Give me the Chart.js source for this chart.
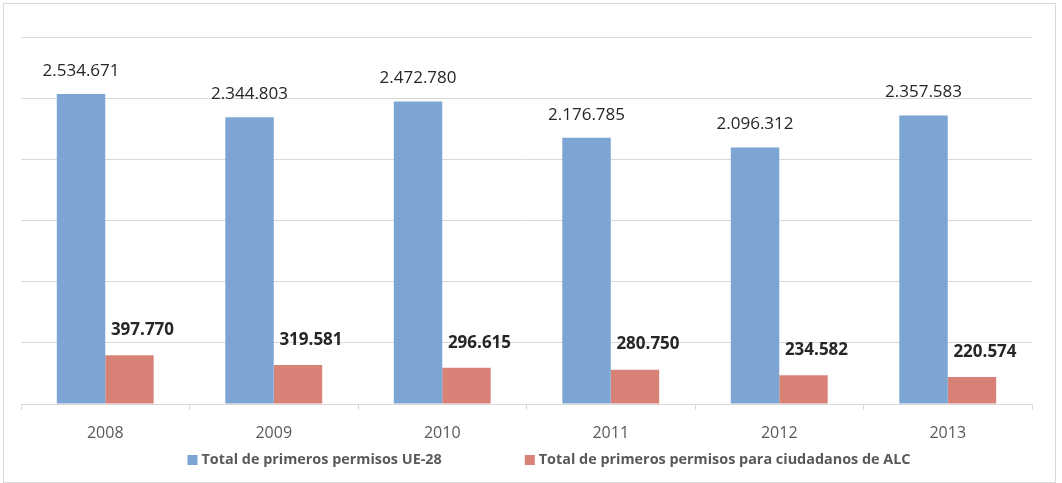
<!DOCTYPE html>
<html>
<head>
<meta charset="utf-8">
<script src="https://cdn.jsdelivr.net/npm/chart.js@4/dist/chart.umd.min.js"></script>
<style>
  html, body { margin: 0; padding: 0; background: #fff; }
  #wrap { position: relative; width: 1062px; height: 483px; }
</style>
</head>
<body>
<div id="wrap"><canvas id="bar-chart"></canvas></div>
<script>
var years = ["2008", "2009", "2010", "2011", "2012", "2013"];
var totalUE28 = [2534671, 2344803, 2472780, 2176785, 2096312, 2357583];
var totalALC = [397770, 319581, 296615, 280750, 234582, 220574];
var seriesNames = ["Total de primeros permisos UE-28", "Total de primeros permisos para ciudadanos de ALC"];
var seriesColors = ["#7CA5D4", "#D88277"];
var yMax = 3000000;
var yStep = 500000;

var FONT = "'Open Sans', 'DejaVu Sans', sans-serif";

function fmt(v) {
  return String(v).replace(/\B(?=(\d{3})+(?!\d))/g, ".");
}

// value labels above bars
var valueLabels = {
  id: 'valueLabels',
  afterDatasetsDraw: function(chart) {
    var ctx = chart.ctx;
    ctx.save();
    ctx.textAlign = 'center';
    ctx.textBaseline = 'middle';
    chart.data.datasets.forEach(function(ds, i) {
      var meta = chart.getDatasetMeta(i);
      meta.data.forEach(function(bar, j) {
        if (i === 0) {
          ctx.font = "17px " + FONT;
          ctx.fillStyle = "#262626";
          ctx.fillText(fmt(ds.data[j]), bar.x, bar.y - 23);
        } else {
          ctx.font = "bold 17px " + FONT;
          ctx.fillStyle = "#262626";
          ctx.fillText(fmt(ds.data[j]), bar.x + 13, bar.y - 25);
        }
      });
    });
    ctx.restore();
  }
};

// outer frame + bottom legend
var frameLegend = {
  id: 'frameLegend',
  afterDraw: function(chart) {
    var ctx = chart.ctx;
    ctx.save();
    ctx.strokeStyle = "#D9D9D9";
    ctx.lineWidth = 1;
    ctx.strokeRect(3.5, 3.5, 1052, 479);

    ctx.font = "bold 14.4px " + FONT;
    ctx.textBaseline = 'middle';
    ctx.textAlign = 'left';
    var box = 10, gapText = 4, gapItem = 83;
    var widths = seriesNames.map(function(t) { return ctx.measureText(t).width; });
    var total = box + gapText + widths[0] + gapItem + box + gapText + widths[1];
    var x = 549 - total / 2;
    var y = 460;
    seriesNames.forEach(function(t, i) {
      ctx.fillStyle = seriesColors[i];
      ctx.fillRect(x, y - box / 2, box, box);
      ctx.fillStyle = "#595959";
      ctx.fillText(t, x + box + gapText, y);
      x += box + gapText + widths[i] + gapItem;
    });
    ctx.restore();
  }
};

var ctx = document.getElementById("bar-chart");
var barChart = new Chart(ctx, {
  type: 'bar',
  data: {
    labels: years,
    datasets: [
      {
        label: seriesNames[0],
        data: totalUE28,
        backgroundColor: seriesColors[0],
        barPercentage: 1,
        categoryPercentage: 0.575
      },
      {
        label: seriesNames[1],
        data: totalALC,
        backgroundColor: seriesColors[1],
        barPercentage: 1,
        categoryPercentage: 0.575
      }
    ]
  },
  options: {
    responsive: true,
    maintainAspectRatio: false,
    animation: false,
    layout: { padding: { left: 21, right: 30, top: 37, bottom: 0 } },
    plugins: {
      legend: { display: false },
      tooltip: { enabled: false }
    },
    scales: {
      x: {
        grid: { offset: true, drawOnChartArea: false, drawTicks: true, tickLength: 6, color: "#D9D9D9" },
        border: { color: "#D9D9D9" },
        ticks: { color: "#595959", font: { size: 16, family: FONT }, padding: 14 },
        afterFit: function(s) { s.height = 79; }
      },
      y: {
        min: 0,
        max: yMax,
        ticks: { display: false, stepSize: yStep },
        grid: { color: "#D9D9D9", drawTicks: false },
        border: { display: false },
        afterFit: function(s) { s.width = 0; }
      }
    }
  },
  plugins: [valueLabels, frameLegend]
});
</script>
</body>
</html>
